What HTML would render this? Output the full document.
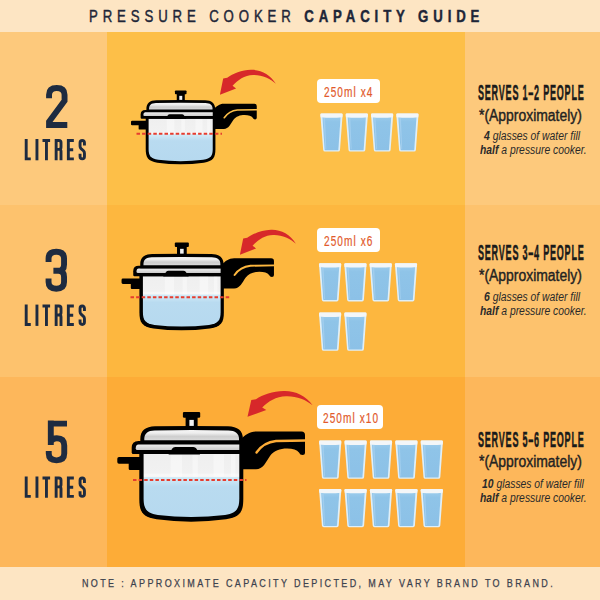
<!DOCTYPE html>
<html><head><meta charset="utf-8">
<style>
html,body{margin:0;padding:0;width:600px;height:600px;overflow:hidden;}
body{position:relative;font-family:"Liberation Sans",sans-serif;background:#FDE5C3;}
.a{position:absolute;}
.hdr{left:0;top:0;width:600px;height:32px;background:#FDE5C3;}
.ftr{left:0;top:567px;width:600px;height:33px;background:#FDE5C3;}
.r1l{left:0;top:32px;width:107px;height:173px;background:#FDC97C;}
.r1m{left:107px;top:32px;width:358px;height:173px;background:#FDBF48;}
.r1r{left:465px;top:32px;width:135px;height:173px;background:#FDC97C;}
.r2l{left:0;top:205px;width:107px;height:172px;background:#FDC26D;}
.r2m{left:107px;top:205px;width:358px;height:172px;background:#FDB73F;}
.r2r{left:465px;top:205px;width:135px;height:172px;background:#FDC26D;}
.r3l{left:0;top:377px;width:107px;height:190px;background:#FDB75B;}
.r3m{left:107px;top:377px;width:358px;height:190px;background:#FDAC37;}
.r3r{left:465px;top:377px;width:135px;height:190px;background:#FDB75B;}
.t{position:absolute;white-space:nowrap;line-height:1;transform-origin:0 0;}
.hd{left:89px;top:7.5px;font-size:16.5px;color:#1E2638;letter-spacing:6.1px;transform:scaleX(0.8);-webkit-text-stroke:0.45px #1E2638;}
.srv{font-size:21.5px;font-weight:700;color:#1A1A1A;letter-spacing:1.87px;transform:scaleX(0.42);-webkit-text-stroke:0.5px #1A1A1A;}
.apx{font-size:16px;color:#222;transform:scaleX(0.87);-webkit-text-stroke:0.4px #222;}
.it{font-size:12px;font-style:italic;color:#2A2A2A;transform:scaleX(0.8625);}
.lbl{position:absolute;background:#FFFFFF;border-radius:4px;}
.lt{font-size:14px;color:#E25A2B;letter-spacing:1.5px;transform:scaleX(0.72);-webkit-text-stroke:0.2px #E25A2B;}
.ft{left:81.5px;top:578px;font-size:10.6px;color:#3C424E;letter-spacing:2.79px;transform:scaleX(0.85);-webkit-text-stroke:0.25px #3C424E;}
svg.full{position:absolute;left:0;top:0;}
</style></head><body>
<div class="a hdr"></div>
<div class="a r1l"></div><div class="a r1m"></div><div class="a r1r"></div>
<div class="a r2l"></div><div class="a r2m"></div><div class="a r2r"></div>
<div class="a r3l"></div><div class="a r3m"></div><div class="a r3r"></div>
<div class="a ftr"></div>

<div class="t hd">PRESSURE COOKER <b>CAPACITY GUIDE</b></div>


<div class="lbl" style="left:317px;top:79px;width:63px;height:24px"></div>
<div class="lbl" style="left:317px;top:228px;width:63px;height:24px"></div>
<div class="lbl" style="left:317px;top:405px;width:66px;height:24px"></div>
<div class="t lt" style="left:324px;top:84.5px">250ml x4</div>
<div class="t lt" style="left:324px;top:233.5px">250ml x6</div>
<div class="t lt" style="left:322.5px;top:410.5px">250ml x10</div>

<div class="t srv" style="left:478px;top:83px">SERVES 1–2 PEOPLE</div>
<div class="t apx" style="left:479px;top:108px">*(Approximately)</div>
<div class="t it" style="left:484px;top:130.1px"><b>4</b> glasses of water fill</div>
<div class="t it" style="left:480px;top:143.6px"><b>half</b> a pressure cooker.</div>

<div class="t srv" style="left:478px;top:243px">SERVES 3–4 PEOPLE</div>
<div class="t apx" style="left:479px;top:268px">*(Approximately)</div>
<div class="t it" style="left:484px;top:291.1px"><b>6</b> glasses of water fill</div>
<div class="t it" style="left:480px;top:304.6px"><b>half</b> a pressure cooker.</div>

<div class="t srv" style="left:478px;top:430px">SERVES 5–6 PEOPLE</div>
<div class="t apx" style="left:479px;top:454px">*(Approximately)</div>
<div class="t it" style="left:482px;top:478.1px"><b>10</b> glasses of water fill</div>
<div class="t it" style="left:480px;top:491.6px"><b>half</b> a pressure cooker.</div>

<div class="t ft">NOTE : APPROXIMATE CAPACITY DEPICTED, MAY VARY BRAND TO BRAND.</div>

<svg class="full" width="600" height="600" viewBox="0 0 600 600">
<defs>
<linearGradient id="gDome" x1="0" y1="0" x2="0" y2="1">
<stop offset="0" stop-color="#F5F5F5"/><stop offset="0.3" stop-color="#EEEEEE"/><stop offset="0.62" stop-color="#CECECE"/><stop offset="1" stop-color="#D9D9D9"/>
</linearGradient>
<linearGradient id="gRim" x1="0" y1="0" x2="0" y2="1">
<stop offset="0" stop-color="#EEEEEE"/><stop offset="1" stop-color="#CBCBCB"/>
</linearGradient>
<linearGradient id="gBody" gradientUnits="userSpaceOnUse" x1="0" y1="454" x2="0" y2="517">
<stop offset="0" stop-color="#EFEFEF"/><stop offset="0.30" stop-color="#F1F1F1"/><stop offset="0.33" stop-color="#F8F8F8"/><stop offset="0.362" stop-color="#F5F5F5"/>
<stop offset="0.365" stop-color="#D3ECF8"/><stop offset="0.52" stop-color="#B9DBF0"/><stop offset="1" stop-color="#B6D9EF"/>
</linearGradient>
<g id="pot">
<path fill="#000" d="M241 439 C245 435.5 249 431.5 256 431.5 L301.5 431.5 Q305 431.5 305 435 L305 452.5 Q305 455 302.5 455 Q300 455 299 452.5 C297 450 293 448.5 287 448.5 C280 448.5 274 450.5 270 456 C266 462 263 469.3 256 469.3 L241 469.3 Z"/>
<path fill="none" stroke="currentColor" stroke-width="2.4" stroke-linecap="round" d="M256.5 452.5 C261 446 266 442 276 441 L306 440.5"/>
<path fill="#000" d="M119 457 L145 457 L145 470 L130 470 Q128.7 470 128.7 468.7 L128.7 463.7 L119 463.7 Q117.3 463.7 117.3 462 L117.3 458.7 Q117.3 457 119 457 Z"/>
<path fill="#000" d="M139.3 450 L243.3 450 L243.3 499 C243.3 512 240 517 226 519.3 Q191 524 156.6 519.3 C142.6 517 139.3 512 139.3 499 Z"/>
<path fill="url(#gBody)" d="M143.6 454 L239.3 454 L239.3 498.5 C239.3 509 236.5 513 225 515 Q191 519 157.9 515 C146.4 513 143.6 509 143.6 498.5 Z"/>
<path fill="#FFFFFF" opacity="0.4" d="M170.6 454.5 h11.4 v22.3 h-11.4 Z M192.5 454.5 h5.3 v22.3 h-5.3 Z M213.5 454.5 h10.5 v22.3 h-10.5 Z M231 454.5 h4.4 v22.3 h-4.4 Z"/>
<path fill="#000" d="M138.5 441 L243 441 L243 454 L133.2 454 Q131.7 454 131.7 452.5 L131.7 447.8 Q131.7 441 138.5 441 Z"/>
<path fill="url(#gRim)" d="M138.5 444.4 L239.3 444.4 L239.3 450 L137.5 450 Q135.7 450 135.7 448.5 Q135.7 444.4 138.5 444.4 Z"/>
<path fill="#000" d="M140.3 444 L140.3 439.5 C140.3 430.5 145.5 426.5 155 426.3 Q191.5 425.5 228 426.3 C237.5 426.5 243 430.5 243 439.5 L243 444 Z"/>
<path fill="url(#gDome)" d="M144.3 440.3 L144.3 438.8 C144.3 433.3 147.8 430.6 154.5 430.4 Q191.5 429.7 228.5 430.4 C235.2 430.6 239 433.3 239 438.8 L239 440.3 Z"/>
<path fill="#000" d="M168.5 454.5 L172.3 448.6 Q173.2 447.1 175.2 447.1 L193.4 447.1 Q195.4 447.1 196.3 448.6 L200.1 454.5 Z"/>
<rect x="185.6" y="416" width="12" height="13" fill="#000"/>
<rect x="182.9" y="411.9" width="17.3" height="5.8" rx="1.2" fill="#000"/>
<rect x="189.4" y="419.9" width="4.4" height="6" fill="#F2F2F2"/>
</g>
<path id="arrow" fill="#D7282A" d="M312.6 405.3 C306 395.8 295 390.6 283.6 391 C273 391.4 262.5 394.8 256 399.2 L251.3 400 L247.5 416.7 L266.3 410.1 L262.2 407.5 C268.2 401.2 276 396.6 286 396.2 C296 395.8 306 399.6 312.6 405.3 Z"/>
<g id="lit" fill="none" stroke="#1E2B40" stroke-width="2.9">
<path d="M1.45 0 V19.85 H6.02"/>
<path d="M12.2 0 V21.3"/>
<path d="M17.75 1.45 H25.35 M21.7 0 V21.3"/>
<path d="M31.4 21.3 V1.45 H34.2 Q36.25 1.45 36.25 3.6 V8.2 Q36.25 10.35 34.2 10.35 H31.4 M34.6 10.35 Q36.25 10.35 36.25 12.3 V21.3"/>
<path d="M49.1 1.45 H43.6 V19.85 H49.1 M43.6 10.7 H48.45"/>
<path d="M59.7 6.5 V3.8 Q59.7 1.45 57.5 1.45 Q55.3 1.45 55.3 3.8 V7.2 Q55.3 8.6 56.3 9.6 L58.7 11.7 Q59.7 12.7 59.7 14.2 V17.5 Q59.7 19.85 57.5 19.85 Q55.3 19.85 55.3 17.5 V14.8"/>
</g>
<g id="d2" fill="none" stroke="#1E2B40" stroke-width="5.9" stroke-miterlimit="3"><path d="M2.75 13 V9.5 C2.75 4.8 5.8 2.75 10.5 2.75 C15.2 2.75 18.25 4.8 18.25 9.5 V15.5 L2.75 36.5 V39.75 H21"/></g>
<g id="d3" fill="none" stroke="#1E2B40" stroke-width="5.9" stroke-miterlimit="3"><path d="M2.75 13 V9.5 C2.75 4.8 5.8 2.75 10.5 2.75 C15.2 2.75 18.25 4.8 18.25 9.5 V15.5 C18.25 19.5 16.5 21.8 12.5 21.8 H7.6 M12.5 21.8 C16.5 21.8 18.25 24 18.25 28 V33 C18.25 37.7 15.2 39.75 10.5 39.75 C5.8 39.75 2.75 37.7 2.75 33 V29.5"/></g>
<g id="d5" fill="none" stroke="#1E2B40" stroke-width="5.9" stroke-miterlimit="3"><path d="M21 3.05 H4.8 M4.8 0 V24.5 M4.8 21 C6.2 18.5 8.2 17.6 10.8 17.6 C15.5 17.6 18.25 20 18.25 25 V33 C18.25 37.7 15.2 39.75 10.5 39.75 C5.8 39.75 2.75 37.7 2.75 33 V30.5"/></g>
<linearGradient id="gWater" x1="0" y1="0" x2="0" y2="1"><stop offset="0" stop-color="#9ACBEC"/><stop offset="0.15" stop-color="#8FC4E8"/><stop offset="1" stop-color="#8CC1E7"/></linearGradient>
<g id="glass">
<path fill="#DFEFF8" d="M1.2 0 L21 0 Q22.3 0 22.2 1.3 L19.6 36.6 Q19.4 38.2 17.8 38.2 L4.6 38.2 Q3 38.2 2.8 36.6 L0 1.3 Q-0.1 0 1.2 0 Z"/>
<path fill="url(#gWater)" d="M2 3.6 L20.2 3.6 L17.95 36.3 Q17.85 36.9 17.25 36.9 L4.95 36.9 Q4.35 36.9 4.25 36.3 Z"/>
<path fill="#A2CEEE" d="M3 4.3 L4.6 4.3 L5.9 35.9 L5.1 35.9 Z"/>
<path fill="#F3F6F8" d="M1.2 0 L21 0 Q22.3 0 22.2 1.3 L21.95 3.8 Q11.1 4.9 0.25 3.8 L0 1.3 Q-0.1 0 1.2 0 Z"/>
</g>
</defs>
<use href="#pot" style="color:#FDBF48" transform="translate(52.4 -186.5) scale(0.67 0.6724)"/>
<use href="#pot" style="color:#FDB73F" transform="translate(26.3 -87.5) scale(0.812 0.801)"/>
<use href="#pot" style="color:#FDAC37"/>
<use href="#arrow" transform="translate(220 94.7) scale(0.86 0.97) translate(-247.6 -416.6)"/>
<use href="#arrow" transform="translate(240 254.7) scale(0.86 0.97) translate(-247.6 -416.6)"/>
<use href="#arrow"/>
<use href="#d2" transform="translate(46.3 85.2)"/>
<use href="#d3" transform="translate(45.8 249)"/>
<use href="#d5" transform="translate(46 420.6)"/>
<use href="#lit" transform="translate(24.75 139)"/>
<use href="#lit" transform="translate(24.75 304.6)"/>
<use href="#lit" transform="translate(24.75 476.5)"/>
<line x1="136.5" y1="133.8" x2="222" y2="133.8" stroke="#E63D2F" stroke-width="1.9" stroke-dasharray="3.5 2.1"/>
<line x1="130.5" y1="297.3" x2="230.5" y2="297.3" stroke="#E63D2F" stroke-width="1.9" stroke-dasharray="3.5 2.1"/>
<line x1="133" y1="480" x2="246.5" y2="480" stroke="#E63D2F" stroke-width="1.9" stroke-dasharray="3.5 2.1"/>

<use href="#glass" x="320.4" y="113.4"/>
<use href="#glass" x="345.7" y="113.4"/>
<use href="#glass" x="371" y="113.4"/>
<use href="#glass" x="396.3" y="113.4"/>

<use href="#glass" x="319" y="263.2"/>
<use href="#glass" x="344.3" y="263.2"/>
<use href="#glass" x="369.6" y="263.2"/>
<use href="#glass" x="394.9" y="263.2"/>
<use href="#glass" x="319" y="312.6"/>
<use href="#glass" x="344.3" y="312.6"/>

<use href="#glass" x="319.1" y="440.6"/>
<use href="#glass" x="344.5" y="440.6"/>
<use href="#glass" x="369.9" y="440.6"/>
<use href="#glass" x="395.3" y="440.6"/>
<use href="#glass" x="420.7" y="440.6"/>
<use href="#glass" x="319.1" y="489"/>
<use href="#glass" x="344.5" y="489"/>
<use href="#glass" x="369.9" y="489"/>
<use href="#glass" x="395.3" y="489"/>
<use href="#glass" x="420.7" y="489"/>
</svg>
</body></html>
